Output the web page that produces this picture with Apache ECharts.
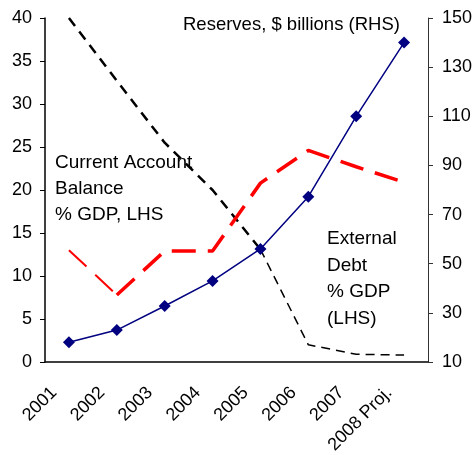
<!DOCTYPE html>
<html>
<head>
<meta charset="utf-8">
<script src="https://cdn.jsdelivr.net/npm/echarts@6/dist/echarts.min.js"></script>
<style>
    html, body { margin: 0; padding: 0; background: #fff; }
    #chart { width: 475px; height: 455px; }
</style>
</head>
<body>
<div id="chart"></div>
<script>
const years = ['2001', '2002', '2003', '2004', '2005', '2006', '2007', '2008 Proj.'];
const reserves = [18, 23, 32.8, 43, 56, 77.3, 110, 140];       // $ billions, RHS
const currentAccount = [13, 7.8, 12.9, 12.9, 20.8, 24.6, 22.7, 20.9]; // % GDP, LHS
const externalDebt = [40, 32.7, 25.5, 20, 13.1, 2, 0.9, 0.8];  // % GDP, LHS
const rightTicks = [10, 30, 50, 70, 90, 110, 130, 150];

const FONT = 'Liberation Sans';

// excel draws some segments thicker than others, so split each dashed line in two
function part(arr, from, to) {
    return arr.map((v, i) => (i >= from && i <= to) ? v : null);
}

window.onload = function() {
    let myChart = echarts.init(document.getElementById('chart'), null, {renderer: 'canvas'});

    let option = {
        animation: false,
        backgroundColor: '#fff',
        grid: {left: 45, right: 47, top: 18, bottom: 93, containLabel: false, outerBoundsMode: 'none'},
        xAxis: {
            type: 'category',
            data: years,
            boundaryGap: true,
            axisLine: {lineStyle: {color: '#000', width: 1.5}},
            axisTick: {inside: true, length: 6, lineStyle: {color: '#000', width: 1.5}},
            axisLabel: {
                rotate: 45,
                interval: 0,
                margin: 13,
                padding: [0, 21, 0, 0],
                color: '#000',
                fontFamily: FONT,
                fontSize: 18
            }
        },
        yAxis: [{
            type: 'value',
            min: 0, max: 40, interval: 5,
            splitLine: {show: false},
            axisLine: {show: true, lineStyle: {color: '#000', width: 1.5}},
            axisTick: {show: true, length: 5, lineStyle: {color: '#000'}},
            axisLabel: {color: '#000', fontFamily: FONT, fontSize: 18, margin: 13}
        }, {
            type: 'value',
            position: 'right',
            min: 10, max: 150,
            splitLine: {show: false},
            axisLine: {show: true, lineStyle: {color: '#333', width: 1}},
            axisTick: {show: true, length: 5, customValues: rightTicks, lineStyle: {color: '#333'}},
            axisLabel: {color: '#000', fontFamily: FONT, fontSize: 18, margin: 14, customValues: rightTicks}
        }],
        series: [
            {
                type: 'line', yAxisIndex: 0, symbol: 'none',
                data: part(externalDebt, 0, 4),
                lineStyle: {color: '#000', width: 2.5, type: [10, 7]}
            },
            {
                type: 'line', yAxisIndex: 0, symbol: 'none',
                data: part(externalDebt, 4, 7),
                lineStyle: {color: '#000', width: 1.5, type: [9, 6]}
            },
            {
                type: 'line', yAxisIndex: 0, symbol: 'none',
                data: part(currentAccount, 0, 1),
                lineStyle: {color: '#ff0000', width: 2, type: [24, 12]}
            },
            {
                type: 'line', yAxisIndex: 0, symbol: 'none',
                data: part(currentAccount, 1, 7),
                lineStyle: {color: '#ff0000', width: 3.5, type: [24, 12]}
            },
            {
                type: 'line', yAxisIndex: 1,
                data: reserves,
                symbol: 'diamond', symbolSize: 12,
                itemStyle: {color: '#000080'},
                lineStyle: {color: '#000080', width: 1.5}
            }
        ],
        graphic: [
            {
                type: 'text', left: 183, top: 14,
                style: {text: 'Reserves, $ billions (RHS)', font: '18.5px "Liberation Sans"', fill: '#000', lineHeight: 22}
            },
            {
                type: 'text', left: 55, top: 150,
                style: {text: 'Current Account\nBalance\n% GDP, LHS', font: '19px "Liberation Sans"', fill: '#000', lineHeight: 26}
            },
            {
                type: 'text', left: 327, top: 226,
                style: {text: 'External\nDebt\n% GDP\n(LHS)', font: '19px "Liberation Sans"', fill: '#000', lineHeight: 26.5}
            }
        ]
    };

    myChart.setOption(option);
};
</script>
</body>
</html>
